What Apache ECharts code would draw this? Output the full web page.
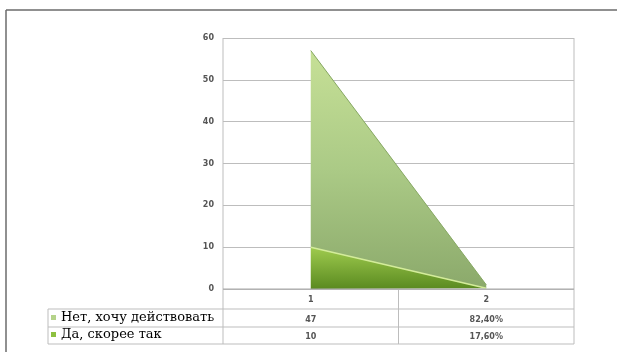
<!DOCTYPE html>
<html>
<head>
<meta charset="utf-8">
<script src="https://cdn.jsdelivr.net/npm/echarts@6/dist/echarts.min.js"></script>
<style>html,body{margin:0;padding:0;background:#fff}#c{width:617px;height:352px}</style>
</head>
<body>
<div id="c"></div>
<script>
var categories = ['1', '2'];
var seriesNames = ['Нет, хочу действовать', 'Да, скорее так'];
var noValues = [47, 0.824];
var yesValues = [10, 0.176];
var noLabels = ['47', '82,40%'];
var yesLabels = ['10', '17,60%'];
var yTicks = [0, 10, 20, 30, 40, 50, 60];

var W = 617, H = 352;
var gl = 223, gr = 574, gt = 38, gb = 289;
var rowB1 = 309, rowB2 = 327, rowB3 = 344, tableLeft = 48;
var lineCol = '#bdbdbd';
var chart = echarts.init(document.getElementById('c'), null, {renderer: 'canvas'});
var mid = (gl + gr) / 2;

function ln(x1, y1, x2, y2, c, w) {
  return {type: 'line', silent: true, z: 100, shape: {x1: x1, y1: y1, x2: x2, y2: y2},
    style: {stroke: c || lineCol, lineWidth: w || 1}};
}
var smallLabel = {fontSize: 8, color: '#555', fontWeight: 'bold', fontFamily: 'DejaVu Sans'};
function legendFor(name, top) {
  return {
    left: tableLeft + 3, top: top, padding: 0,
    icon: 'rect', itemWidth: 5, itemHeight: 5,
    data: [name],
    textStyle: {fontFamily: 'DejaVu Serif', fontSize: 13, color: '#000', padding: [0, 0, 0, 0]}
  };
}

chart.setOption({
  animation: false,
  backgroundColor: '#fff',
  grid: {left: gl, right: W - gr, top: gt, bottom: H - gb, show: false},
  legend: [legendFor(seriesNames[0], rowB1 + 2), legendFor(seriesNames[1], rowB2 + 1)],
  xAxis: [
    {type: 'category', data: categories, boundaryGap: true, position: 'bottom',
      axisLine: {show: false}, axisTick: {show: false}, splitLine: {show: false},
      axisLabel: Object.assign({margin: 7}, smallLabel)},
    {type: 'category', data: noLabels, boundaryGap: true, position: 'bottom', offset: 20,
      axisLine: {show: false}, axisTick: {show: false},
      axisLabel: Object.assign({margin: 7}, smallLabel)},
    {type: 'category', data: yesLabels, boundaryGap: true, position: 'bottom', offset: 38,
      axisLine: {show: false}, axisTick: {show: false},
      axisLabel: Object.assign({margin: 6}, smallLabel)}
  ],
  yAxis: {
    type: 'value', min: yTicks[0], max: yTicks[yTicks.length - 1], interval: 10,
    axisLine: {show: false}, axisTick: {show: false},
    axisLabel: Object.assign({margin: 9}, smallLabel),
    splitLine: {lineStyle: {color: lineCol, width: 1}}
  },
  series: [
    {
      name: seriesNames[1], type: 'line', stack: 'total', data: yesValues,
      symbol: 'none', z: 3,
      lineStyle: {color: '#d3ec9a', width: 1.5},
      itemStyle: {color: '#8dc040'},
      areaStyle: {opacity: 1, color: new echarts.graphic.LinearGradient(0, 0, 0, 1, [
        {offset: 0, color: '#9fcb4e'}, {offset: 1, color: '#5a8a20'}])}
    },
    {
      name: seriesNames[0], type: 'line', stack: 'total', data: noValues,
      symbol: 'none', z: 2,
      lineStyle: {color: '#86a862', width: 1},
      itemStyle: {color: '#b5d38a'},
      areaStyle: {opacity: 1, color: new echarts.graphic.LinearGradient(0, 0, 0, 1, [
        {offset: 0, color: '#c6e096'}, {offset: 0.5, color: '#abca86'}, {offset: 1, color: '#8ba96b'}])}
    }
  ],
  graphic: [
    ln(6, 10, W, 10, '#6b6b6b', 1.5),
    ln(6, 10, 6, H, '#6b6b6b', 1.5),
    ln(gl, gt, gl, rowB3),
    ln(gr, gt, gr, rowB3),
    ln(mid, gb, mid, rowB3),
    ln(tableLeft, rowB1, tableLeft, rowB3),
    ln(gl, gb, gr, gb, '#a8a8a8'),
    ln(tableLeft, rowB1, gr, rowB1),
    ln(tableLeft, rowB2, gr, rowB2),
    ln(tableLeft, rowB3, gr, rowB3)
  ]
});
</script>
</body>
</html>
